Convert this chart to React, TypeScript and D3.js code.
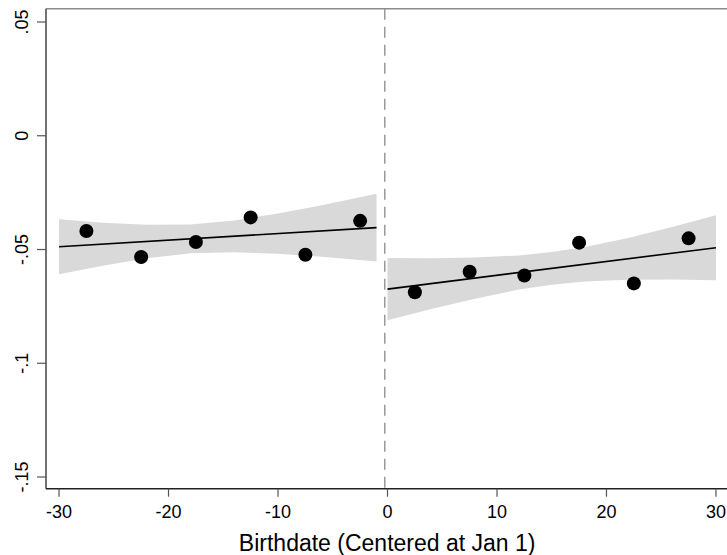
import React from "react";
import * as d3 from "d3";

const W = 727;
const H = 555;

// Binned means (x = birthdate bin center, y = outcome)
const leftBinsX = [-27.5, -22.5, -17.5, -12.5, -7.5, -2.5];
const leftBinsY = [-0.0419, -0.0533, -0.0467, -0.0359, -0.0523, -0.0374];
const rightBinsX = [2.5, 7.5, 12.5, 17.5, 22.5, 27.5];
const rightBinsY = [-0.0688, -0.0598, -0.0614, -0.047, -0.0649, -0.0451];

// Linear fit endpoints
const leftFitX = [-30, -1];
const leftFitY = [-0.0488, -0.0404];
const rightFitX = [0, 30];
const rightFitY = [-0.0674, -0.0492];

// 95% CI band
const leftCIX = [-30, -26, -22, -18, -14, -10, -6, -1];
const leftCIUpper = [-0.0367, -0.0382, -0.0391, -0.039, -0.0372, -0.0342, -0.0306, -0.0255];
const leftCILower = [-0.0609, -0.0571, -0.0539, -0.0517, -0.0512, -0.0519, -0.0532, -0.0553];
const rightCIX = [0, 4, 8, 12, 15, 18, 22, 26, 30];
const rightCIUpper = [-0.0537, -0.0538, -0.0535, -0.0526, -0.0511, -0.0489, -0.0449, -0.0401, -0.0349];
const rightCILower = [-0.0811, -0.0761, -0.0716, -0.0676, -0.0655, -0.0641, -0.0633, -0.0632, -0.0635];

const xTicks = [-30, -20, -10, 0, 10, 20, 30];
const xTickLabels = ["-30", "-20", "-10", "0", "10", "20", "30"];
const yTicks = [0.05, 0, -0.05, -0.1, -0.15];
const yTickLabels = [".05", "0", "-.05", "-.1", "-.15"];
const cutoff = -0.25;
const xTitle = "Birthdate (Centered at Jan 1)";

const FONT = "'Liberation Sans', Arial, sans-serif";

export default function App() {
  const left = 46;
  const top = 8.7;
  const bottom = 488.7;
  const x = d3.scaleLinear().domain([-31.19, 31.19]).range([left, 729]);
  const y = d3.scaleLinear().domain([0.05, -0.15]).range([22, 477]);
  const yTop = 0.05 + (22 - top) / 2275;
  const yBot = -0.15 - (bottom - 477) / 2275;

  const area = d3
    .area<[number, number, number]>()
    .x((d) => x(d[0]))
    .y0((d) => y(d[2]))
    .y1((d) => y(d[1]));
  const line = d3
    .line<[number, number]>()
    .x((d) => x(d[0]))
    .y((d) => y(d[1]));

  const leftBand = leftCIX.map((v, i) => [v, leftCIUpper[i], leftCILower[i]] as [number, number, number]);
  const rightBand = rightCIX.map((v, i) => [v, rightCIUpper[i], rightCILower[i]] as [number, number, number]);
  const leftFit = leftFitX.map((v, i) => [v, leftFitY[i]] as [number, number]);
  const rightFit = rightFitX.map((v, i) => [v, rightFitY[i]] as [number, number]);

  return (
    <svg
      width={W}
      height={H}
      style={{ position: "absolute", left: 0, top: 0, background: "#fff" }}
    >
      <rect x={0} y={0} width={W} height={H} fill="#fff" />
      {/* CI bands */}
      <path d={area(leftBand) || ""} fill="#d9d9d9" stroke="none" />
      <path d={area(rightBand) || ""} fill="#d9d9d9" stroke="none" />
      {/* cutoff */}
      <line
        x1={x(cutoff)}
        x2={x(cutoff)}
        y1={y(yTop)}
        y2={y(yBot)}
        stroke="#9a9a9a"
        strokeWidth={1.5}
        strokeDasharray="11,7"
      />
      {/* fits */}
      <path d={line(leftFit) || ""} fill="none" stroke="#000" strokeWidth={1.6} />
      <path d={line(rightFit) || ""} fill="none" stroke="#000" strokeWidth={1.6} />
      {/* points */}
      {leftBinsX.map((v, i) => (
        <circle key={"l" + i} cx={x(v)} cy={y(leftBinsY[i])} r={7} fill="#000" />
      ))}
      {rightBinsX.map((v, i) => (
        <circle key={"r" + i} cx={x(v)} cy={y(rightBinsY[i])} r={7} fill="#000" />
      ))}
      {/* frame top */}
      <line x1={left} x2={W} y1={y(yTop)} y2={y(yTop)} stroke="#8c8c8c" strokeWidth={1.5} />
      {/* y axis */}
      <line x1={left} x2={left} y1={y(yTop)} y2={y(yBot)} stroke="#444" strokeWidth={1.5} />
      {yTicks.map((t, i) => (
        <g key={"yt" + i}>
          <line x1={left - 9} x2={left} y1={y(t)} y2={y(t)} stroke="#555" strokeWidth={1.2} />
          <text
            transform={`translate(28,${y(t)}) rotate(-90)`}
            textAnchor="middle"
            fontFamily={FONT}
            fontSize={18}
            fill="#000"
          >
            {yTickLabels[i]}
          </text>
        </g>
      ))}
      {/* x axis */}
      <line x1={left} x2={W} y1={y(yBot)} y2={y(yBot)} stroke="#222" strokeWidth={1.5} />
      {xTicks.map((t, i) => (
        <g key={"xt" + i}>
          <line x1={x(t)} x2={x(t)} y1={y(yBot)} y2={y(yBot) + 8} stroke="#555" strokeWidth={1.2} />
          <text
            x={x(t)}
            y={518}
            textAnchor="middle"
            fontFamily={FONT}
            fontSize={18}
            fill="#000"
          >
            {xTickLabels[i]}
          </text>
        </g>
      ))}
      <text
        x={(238.3 + 536) / 2}
        y={551}
        textAnchor="middle"
        fontFamily={FONT}
        fontSize={23}
        fill="#000"
      >
        {xTitle}
      </text>
    </svg>
  );
}
